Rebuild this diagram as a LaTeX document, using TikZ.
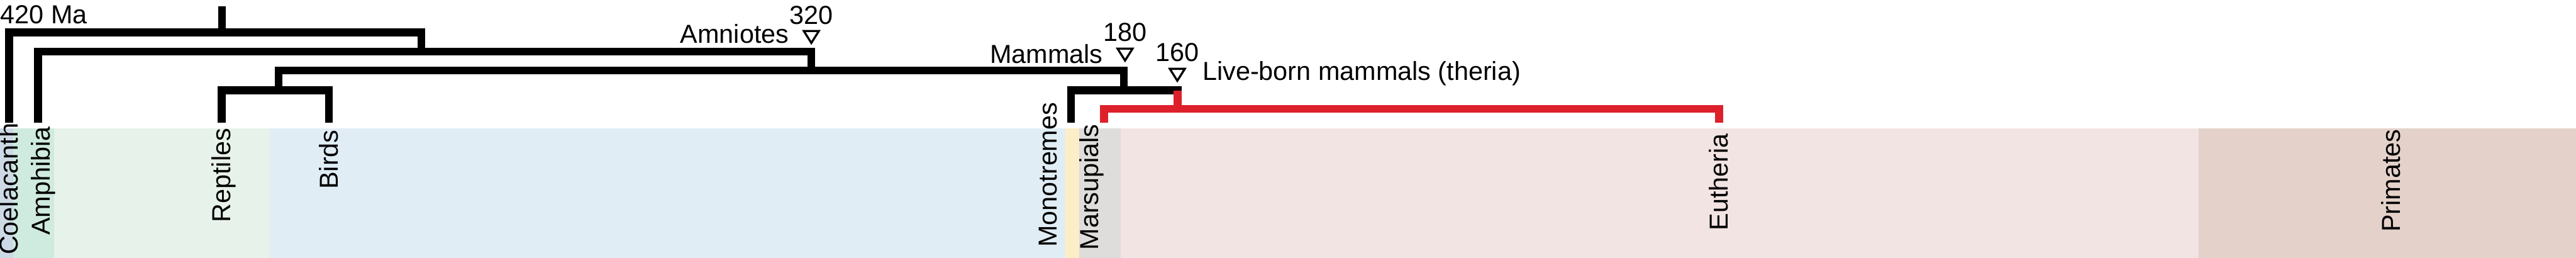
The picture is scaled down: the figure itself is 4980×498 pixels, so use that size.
\documentclass[tikz,border=0pt]{standalone}
\usepackage{fontspec}
\setmainfont{Liberation Sans}
\usetikzlibrary{calc}
\definecolor{cCoel}{RGB}{205,217,229}
\definecolor{cAmph}{RGB}{207,234,222}
\definecolor{cRept}{RGB}{231,242,234}
\definecolor{cBird}{RGB}{224,237,245}
\definecolor{cMono}{RGB}{252,238,199}
\definecolor{cMars}{RGB}{222,221,220}
\definecolor{cEuth}{RGB}{242,228,227}
\definecolor{cPrim}{RGB}{227,209,202}
\definecolor{cRed}{RGB}{221,33,43}
\tikzset{
  br/.style={line width=0.15cm, draw=black, line cap=butt, line join=miter},
  rbr/.style={line width=0.15cm, draw=cRed, line cap=butt, line join=miter},
  mk/.style={line width=0.04cm, draw=black, line join=miter},
  lab/.style={inner sep=0pt, outer sep=0pt, font=\fontsize{14.3}{17}\selectfont, text=black},
  vlab/.style={lab, rotate=90, anchor=base east}
}
\newcommand\drawmarker[1]{\draw[mk] ($(#1)+(-14.5,2)$) -- ($(#1)+(14.5,2)$) -- ($(#1)+(0,25)$) -- cycle;}
\begin{document}
\begin{tikzpicture}[x=0.01cm,y=-0.01cm]
\useasboundingbox (0,0) rectangle (4980,498);
% background bands
\fill[cCoel] (0,248) rectangle (26,498);
\fill[cAmph] (26,248) rectangle (104,498);
\fill[cRept] (104,248) rectangle (521,498);
\fill[cBird] (521,248) rectangle (2059,498);
\fill[cMono] (2059,248) rectangle (2086,498);
\fill[cMars] (2086,248) rectangle (2167,498);
\fill[cEuth] (2167,248) rectangle (4251,498);
\fill[cPrim] (4251,248) rectangle (4980,498);
% tips and internal nodes
\coordinate (tipCoel) at (17.5,237);
\coordinate (tipAmph) at (73.5,237);
\coordinate (tipRept) at (428.5,237);
\coordinate (tipBird) at (635.5,237);
\coordinate (tipMono) at (2070.5,237);
\coordinate (tipMars) at (2134.5,237);
\coordinate (tipEuth) at (3323.5,237);
\coordinate (root) at (429,12);
\coordinate (nA) at (429,62.5);
\coordinate (nB) at (814.5,99.5);
\coordinate (nC) at (1568.5,136.5);
\coordinate (nD) at (538.5,174.5);
\coordinate (nE) at (2172.5,174.5);
\coordinate (nF) at (2276.5,210.5);
\coordinate (nFtop) at (2276.5,174.5);
\coordinate (nFend) at (2284,174.5);
% tree
\draw[br] (root) -- (nA);
\draw[br] (tipCoel) |- (nA) -| (nB);
\draw[br] (tipAmph) |- (nB) -| (nC);
\draw[br] (nD) |- (nC) -| (nE);
\draw[br] (tipRept) |- (nD) -| (tipBird);
\draw[br] (tipMono) |- (nE) -- (nFend);
\draw[rbr] (nFtop) -- (nF);
\draw[rbr] (tipMars) |- (nF) -| (tipEuth);
% markers
\coordinate (mAmn) at (1568.5,58);
\coordinate (mMam) at (2175,92);
\coordinate (mThe) at (2276,131);
\drawmarker{mAmn}
\drawmarker{mMam}
\drawmarker{mThe}
% top labels
\node[lab, anchor=base west] (t420) at (1,45) {420 Ma};
\node[lab, anchor=base] (t320) at (1568.5,47) {320};
\node[lab, anchor=base east] (tAmn) at (1525,83) {Amniotes};
\node[lab, anchor=base] (t180) at (2175,80) {180};
\node[lab, anchor=base east] (tMam) at (2132,122) {Mammals};
\node[lab, anchor=base] (t160) at (2275.5,119) {160};
\node[lab, anchor=base west] (tThe) at (2325,155) {Live-born mammals (theria)};
% tip labels
\node[vlab] (lCoel) at (35,238) {Coelacanth};
\node[vlab] (lAmph) at (97,245) {Amphibia};
\node[vlab] (lRept) at (446,248) {Reptiles};
\node[vlab] (lBird) at (653,251) {Birds};
\node[vlab] (lMono) at (2043,198) {Monotremes};
\node[vlab] (lMars) at (2123,240) {Marsupials};
\node[vlab] (lEuth) at (3341,258) {Eutheria};
\node[vlab] (lPrim) at (4640,250) {Primates};
\end{tikzpicture}
\end{document}
